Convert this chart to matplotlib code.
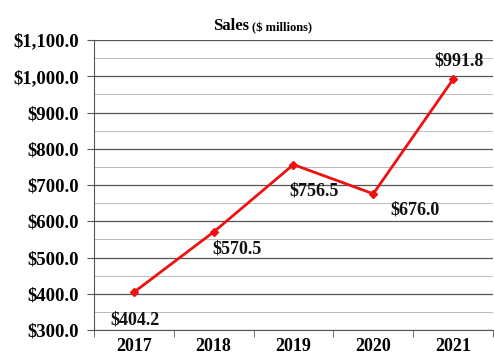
import matplotlib.pyplot as plt
from matplotlib.ticker import MultipleLocator, FixedLocator

years = ['2017', '2018', '2019', '2020', '2021']
sales = [404.2, 570.5, 756.5, 676.0, 991.8]
# label offsets in points (dx, dy)
offsets = [(1, -20), (17, -12), (15, -19), (30, -12), (4, 13)]

plt.rcParams['font.family'] = ['Liberation Serif', 'DejaVu Serif']

fig = plt.figure(figsize=(4.94, 3.58), dpi=100)
ax = fig.add_axes([0.190, 0.078, 0.808, 0.81])

x = list(range(len(years)))
ax.plot(x, sales, color='#ee1111', lw=2, marker='D', ms=4.5, zorder=3)

for i, v in enumerate(sales):
    ax.annotate('${:.1f}'.format(v), (x[i], v), xytext=offsets[i],
                textcoords='offset points', ha='center', va='center',
                fontsize=13, fontweight='bold', color='#111111')

ax.set_xlim(-0.5, len(years) - 0.5)
ax.set_ylim(300, 1100)
ax.set_xticks(x)
ax.set_xticklabels(years)
ax.xaxis.set_minor_locator(FixedLocator([i - 0.5 for i in range(len(years) + 1)]))
ax.yaxis.set_major_locator(MultipleLocator(100))
ax.yaxis.set_minor_locator(MultipleLocator(50))
ax.set_yticklabels(['${:,.1f}'.format(t) for t in ax.get_yticks()])

ax.grid(which='major', axis='y', color='#555555', lw=0.9)
ax.grid(which='minor', axis='y', color='#bbbbbb', lw=0.7)
ax.tick_params(axis='x', which='major', length=0, labelsize=13, pad=6)
ax.tick_params(axis='x', which='minor', length=5, color='#555555')
ax.tick_params(axis='y', which='major', length=5, color='#555555', labelsize=13.5, pad=6)
ax.tick_params(axis='y', which='minor', length=0)
for lbl in ax.get_xticklabels() + ax.get_yticklabels():
    lbl.set_fontweight('bold')

for s in ['top', 'right']:
    ax.spines[s].set_visible(False)
ax.spines['left'].set_color('#555555')
ax.spines['bottom'].set_color('#555555')

fig.text(0.505, 0.905, 'Sales', ha='right', va='bottom', fontsize=12, fontweight='bold')
fig.text(0.51, 0.905, '($ millions)', ha='left', va='bottom', fontsize=9, fontweight='bold')

fig.savefig('out.png', dpi=100)
